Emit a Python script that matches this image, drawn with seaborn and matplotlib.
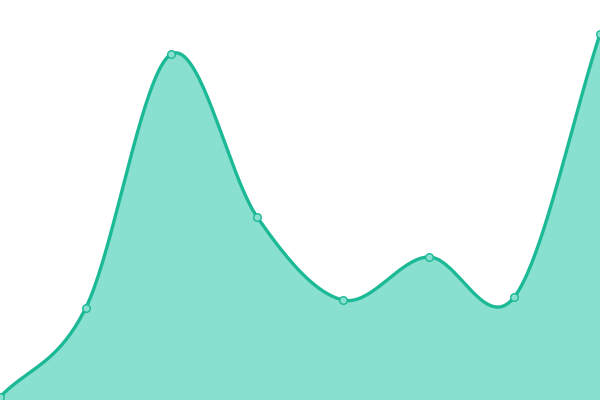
import numpy as np
import pandas as pd
import matplotlib
matplotlib.use("Agg")
import matplotlib.pyplot as plt
import seaborn as sns

# data
steps = [0, 1, 2, 3, 4, 5, 6, 7]
values = [3, 92, 346, 183, 100, 143, 103, 366]

LINE = "#1bb996"
FILL = "#8ae0d0"


def catmull_rom(x, y, n=40):
    # smooth curve through the points, only used for drawing
    x = np.asarray(x, float)
    y = np.asarray(y, float)
    px = np.concatenate([[2 * x[0] - x[1]], x, [2 * x[-1] - x[-2]]])
    py = np.concatenate([[2 * y[0] - y[1]], y, [2 * y[-1] - y[-2]]])
    xs, ys = [], []
    t = np.linspace(0, 1, n, endpoint=False)
    for i in range(1, len(px) - 2):
        for p, out in ((px, xs), (py, ys)):
            p0, p1, p2, p3 = p[i - 1], p[i], p[i + 1], p[i + 2]
            out.extend(0.5 * ((2 * p1) + (-p0 + p2) * t
                              + (2 * p0 - 5 * p1 + 4 * p2 - p3) * t ** 2
                              + (-p0 + 3 * p1 - 3 * p2 + p3) * t ** 3))
    xs.append(x[-1])
    ys.append(y[-1])
    return np.array(xs), np.array(ys)


df = pd.DataFrame({"step": steps, "value": values})

sns.set_theme(style="white")
fig = plt.figure(figsize=(6, 4), dpi=100)
ax = fig.add_axes([0, 0, 1, 1])

sx, sy = catmull_rom(df["step"], df["value"])
ax.fill_between(sx, 0, sy, color=FILL, linewidth=0, zorder=1)
ax.plot(sx, sy, color=LINE, linewidth=2.4, solid_capstyle="round", zorder=2)
sns.scatterplot(data=df, x="step", y="value", ax=ax, s=30, color=FILL,
                edgecolor=LINE, linewidth=1.0, zorder=3, clip_on=False, legend=False)

ax.set_xlim(0, 7)
ax.set_ylim(0, 400)
ax.axis("off")

fig.savefig("out.png", dpi=100)
